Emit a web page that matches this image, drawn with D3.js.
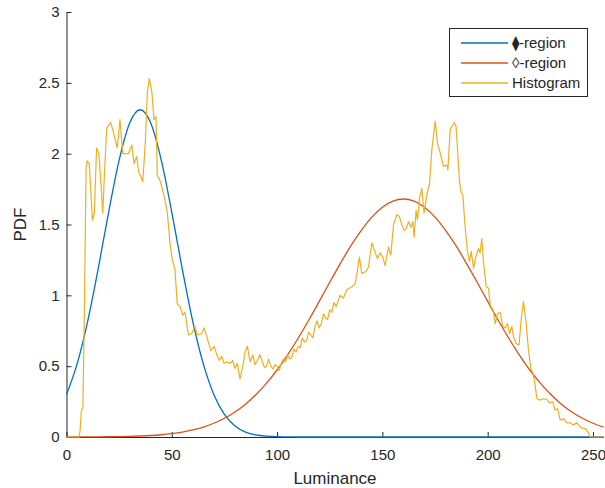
<!DOCTYPE html>
<html>
<head>
<meta charset="utf-8">
<script src="https://cdn.jsdelivr.net/npm/d3@7/dist/d3.min.js"></script>
<style>
  html, body { margin: 0; padding: 0; background: #fff; }
  svg { display: block; }
  text { font-family: "Liberation Sans", Arial, Helvetica, sans-serif; fill: #262626; }
</style>
</head>
<body>
<svg id="chart" width="605" height="488"></svg>
<script>
// Luminance grid for the two fitted region densities
const lumGrid = [0,5,10,15,20,25,30,35,40,45,50,55,60,65,70,75,80,85,90,95,100,105,110,115,120,125,
  130,135,140,145,150,155,160,165,170,175,180,185,190,195,200,205,210,215,220,225,230,235,240,245,250,255];

// Dark-region density (blue)
const darkRegion = [0.299,0.514,0.813,1.184,1.586,1.954,2.216,2.31,2.216,1.954,1.586,1.184,0.813,0.514,0.299,0.159,
  0.078,0.035,0.015,0.006,0.002,0.001,0,0,0,0,0,0,0,0,0,0,0,0,0,0,0,0,0,0,0,0,0,0,0,0,0,0,0,0,0,0];

// Light-region density (orange)
const lightRegion = [0.0002,0.0004,0.0006,0.001,0.0017,0.0028,0.0044,0.0069,0.0106,0.016,0.024,0.035,0.05,0.07,
  0.097,0.132,0.177,0.232,0.3,0.38,0.473,0.58,0.697,0.824,0.957,1.092,1.224,1.349,1.459,1.552,1.622,1.665,1.68,
  1.665,1.622,1.552,1.459,1.349,1.224,1.092,0.957,0.824,0.697,0.58,0.473,0.38,0.3,0.232,0.177,0.132,0.097,0.07];

// Normalised luminance histogram: [luminance, pdf]
const histogramPoints = [
  [0,0],[6,0],[6.5,0.05],[7,0.18],[7.8,0.21],[8.5,0.9],[9.3,1.9],[9.8,1.95],[10.8,1.93],[11.5,1.75],[12.3,1.53],
  [13.2,1.58],[14.3,2.04],[15.4,2.0],[16.3,1.8],[17.2,1.58],[18,1.85],[19.1,2.18],[20,2.2],[21,2.22],[22.2,2.155],
  [24.1,2.04],[25.4,2.24],[26.7,2.0],[28,2.0],[29.4,2.0],[31,2.06],[32.1,1.93],[33.3,1.98],[34.4,1.86],[35.3,1.84],
  [36.2,1.8],[37.4,2.07],[38.4,2.43],[39.3,2.53],[40.5,2.44],[41.6,2.24],[42.5,2.26],[43.1,1.85],[44.7,1.8],
  [46.8,1.67],[47.9,1.58],[49.2,1.36],[50.3,1.25],[51.5,1.18],[52.6,0.94],[53.9,0.92],[55.2,0.86],[56.3,0.88],
  [57.9,0.72],[59.5,0.73],[61,0.78],[62.1,0.72],[64.2,0.73],[65.3,0.77],[66.6,0.71],[68.5,0.61],[70.1,0.64],
  [71.4,0.58],[72.6,0.54],[73.7,0.57],[74.8,0.52],[76.1,0.53],[77.7,0.52],[78.9,0.54],[80,0.485],[81.1,0.52],
  [82.4,0.41],[83.7,0.5],[84.8,0.6],[85.9,0.64],[87.2,0.53],[88.5,0.58],[89.5,0.51],[90.6,0.54],[91.9,0.58],
  [93,0.53],[94,0.49],[95,0.5],[96,0.55],[97,0.5],[98,0.48],[99,0.51],[100,0.5],[101,0.47],[102,0.52],[103,0.55],
  [104,0.53],[105,0.58],[106,0.55],[107,0.56],[108,0.62],[109,0.6],[110,0.64],[111,0.63],[112,0.7],[113,0.67],
  [114,0.68],[115,0.74],[116,0.72],[117,0.7],[118,0.78],[119,0.82],[120,0.77],[121,0.8],[122,0.87],[123,0.84],
  [124,0.83],[125,0.9],[126,0.88],[127,0.95],[128,0.92],[129,0.96],[129.9,1.0],[131.5,0.98],[133.1,1.04],
  [135.5,1.06],[137.1,1.085],[137.9,1.155],[139.1,1.27],[140.2,1.155],[142.3,1.17],[143.4,1.2],[145,1.37],
  [146.6,1.3],[147.7,1.26],[148.9,1.3],[150.2,1.27],[151.3,1.21],[152.9,1.34],[154,1.285],[155.3,1.5],[156.9,1.57],
  [158.1,1.555],[159.2,1.5],[160.3,1.46],[161.3,1.47],[162.4,1.52],[163.5,1.48],[164.5,1.52],[165.1,1.41],[166,1.6],
  [166.7,1.53],[167.6,1.685],[168.7,1.755],[169.8,1.58],[171.1,1.71],[172.4,1.79],[173.5,2.03],[175.1,2.23],
  [176.2,2.07],[177.4,2.01],[179,1.91],[180.6,1.92],[181.1,1.885],[182.2,2.17],[184.1,2.22],[185,2.19],[186.6,1.81],
  [187.3,1.73],[188.2,1.71],[189.3,1.48],[190.4,1.31],[191.4,1.24],[192.2,1.31],[193.3,1.19],[194.5,1.28],
  [195.6,1.33],[196.4,1.3],[197.2,1.4],[198,1.24],[199.3,1.06],[200.4,1.05],[201.2,0.93],[202.5,0.9],[203.6,0.8],
  [204.7,0.87],[205.9,0.88],[207.2,0.78],[208.3,0.77],[209.4,0.8],[210.4,0.73],[211.5,0.78],[212.2,0.71],
  [213.5,0.66],[214.9,0.65],[215.9,0.83],[217,0.955],[218.3,0.8],[219.4,0.61],[220.5,0.485],[221.5,0.45],
  [222.2,0.4],[223.4,0.27],[224.9,0.26],[226.5,0.27],[228.1,0.265],[229.3,0.24],[230.9,0.25],[232,0.19],
  [233.2,0.2],[234.4,0.12],[236,0.13],[237.6,0.1],[239.2,0.1],[240.7,0.085],[242.3,0.1],[243.9,0.07],[245.2,0.06],
  [246.3,0.06],[247.4,0.04],[248.7,0],[250,0],[255,0]
];

const xTicks = [0, 50, 100, 150, 200, 250];
const yTicks = [0, 0.5, 1, 1.5, 2, 2.5, 3];
const legendLabels = ["\u29EB-region", "\u25CA-region", "Histogram"];
const colors = ["#0072BD", "#D95319", "#EDB120"];

const svg = d3.select("#chart");
const plotLeft = 66.5, plotRight = 603.5, plotTop = 12, plotBottom = 437;

const x = d3.scaleLinear().domain([0, 255]).range([plotLeft, plotRight]);
const y = d3.scaleLinear().domain([0, 3]).range([plotBottom, plotTop]);

// Axes (ticks point inward)
const xAxis = d3.axisBottom(x).tickValues(xTicks).tickSizeInner(-5).tickSizeOuter(0).tickPadding(12)
  .tickFormat(d3.format("d"));
const yAxis = d3.axisLeft(y).tickValues(yTicks).tickSizeInner(-5).tickSizeOuter(0).tickPadding(7)
  .tickFormat(d => String(d));

const gx = svg.append("g").attr("transform", `translate(0,${plotBottom})`).call(xAxis);
const gy = svg.append("g").attr("transform", `translate(${plotLeft},0)`).call(yAxis);
[gx, gy].forEach(g => {
  g.select(".domain").attr("stroke", "#262626").attr("stroke-width", 1);
  g.selectAll(".tick line").attr("stroke", "#262626").attr("stroke-width", 1);
  g.selectAll(".tick text").attr("font-size", 15).attr("fill", "#262626")
    .attr("font-family", "'Liberation Sans', Arial, sans-serif");
});

// Axis titles
svg.append("text").attr("x", (plotLeft + plotRight) / 2).attr("y", 484).attr("text-anchor", "middle")
  .attr("font-size", 17).text("Luminance");
svg.append("text").attr("transform", `translate(26,${(plotTop + plotBottom) / 2}) rotate(-90)`)
  .attr("text-anchor", "middle").attr("font-size", 17).text("PDF");

// Curves
const smooth = d3.line().x((d, i) => x(lumGrid[i])).y(d => y(d)).curve(d3.curveMonotoneX);
const plain = d3.line().x(d => x(d[0])).y(d => y(d[1]));

svg.append("path").datum(darkRegion).attr("d", smooth)
  .attr("fill", "none").attr("stroke", colors[0]).attr("stroke-width", 1.3);
svg.append("path").datum(lightRegion).attr("d", smooth)
  .attr("fill", "none").attr("stroke", colors[1]).attr("stroke-width", 1.3);
svg.append("path").datum(histogramPoints).attr("d", plain)
  .attr("fill", "none").attr("stroke", colors[2]).attr("stroke-width", 1.2).attr("stroke-linejoin", "round");

// Legend
const lg = svg.append("g");
lg.append("rect").attr("x", 449.5).attr("y", 28.5).attr("width", 138).attr("height", 68)
  .attr("fill", "#fff").attr("stroke", "#262626").attr("stroke-width", 1);
legendLabels.forEach((lab, i) => {
  const cy = 43 + i * 20;
  lg.append("line").attr("x1", 461).attr("x2", 508).attr("y1", cy).attr("y2", cy)
    .attr("stroke", colors[i]).attr("stroke-width", 1.3);
  lg.append("text").attr("x", 512).attr("y", cy).attr("dy", "0.35em").attr("font-size", 15)
    .attr("font-family", "'Liberation Sans', 'DejaVu Sans', Arial, sans-serif").text(lab);
});
</script>
</body>
</html>
